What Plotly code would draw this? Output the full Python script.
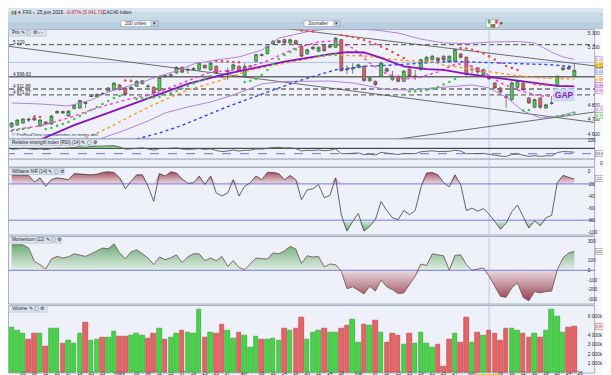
import plotly.graph_objects as go

W, H = 611, 375

# ---------------- data ----------------
opens = [4649,4662,4676,4704,4711,4656,4683,4669,4746,4756,
         4725,4777,4780,4818,4860,4856,4881,4898,4908,4940,
         4919,4915,4931,4949,4933,4924,4900,5005,5000,5023,
         5062,5041,5046,5046,5076,5044,5069,5002,5032,5051,
         5069,5000,5066,5104,5151,5157,5224,5234,5254,5231,
         5247,5208,5155,5203,5173,5215,5201,5201,5254,5050,
         5050,5062,5069,4969,4965,5000,5053,4976,5000,4965,
         5050,4997,5046,5104,5115,5127,5139,5099,5104,5155,
         5132,5044,5058,5011,5000,4954,4919,4860,4838,4924,
         4954,4850,4785,4850,4780,4811,4931,5046,5062,5000]
highs = [4683,4704,4711,4714,4718,4704,4690,4732,4766,4763,
         4766,4808,4838,4829,4870,4881,4891,4926,4960,4947,
         4926,4940,4974,4976,4947,4931,5000,5011,5023,5069,
         5069,5071,5064,5099,5083,5104,5078,5016,5058,5087,
         5076,5092,5078,5157,5158,5215,5251,5254,5262,5262,
         5254,5219,5191,5210,5208,5222,5224,5272,5260,5078,
         5092,5089,5078,4995,4971,5099,5061,5037,5009,5044,
         5058,5044,5123,5141,5148,5134,5146,5146,5193,5161,
         5139,5078,5064,5054,5009,4960,4926,4877,4967,4976,
         4960,4856,4846,4856,4811,4863,5009,5071,5078,5089]
lows = [4642,4656,4669,4683,4690,4649,4662,4662,4739,4739,
        4718,4770,4773,4780,4856,4850,4870,4891,4902,4898,
        4863,4905,4926,4940,4919,4877,4896,4988,4993,5016,
        5023,5016,5037,5039,5051,5037,5016,4988,4974,5044,
        5030,4993,5060,5099,5137,5150,5217,5227,5224,5224,
        5217,5134,5148,5182,5168,5170,5194,5196,5032,5016,
        5016,5054,4964,4960,4933,4995,5026,4969,4957,4960,
        4993,4974,5039,5096,5108,5099,5106,5092,5099,5123,
        5005,5016,5009,5005,4974,4912,4877,4780,4829,4915,
        4898,4808,4778,4773,4773,4801,4926,5037,5044,4995]
closes = [4676,4697,4704,4697,4697,4697,4669,4725,4756,4746,
          4759,4801,4832,4811,4863,4874,4877,4919,4953,4908,
          4874,4922,4965,4969,4929,4884,4993,5000,5011,5062,
          5028,5047,5053,5092,5058,5092,5023,4997,5037,5080,
          5035,5069,5071,5150,5146,5208,5242,5247,5231,5254,
          5224,5139,5184,5191,5201,5177,5215,5265,5039,5046,
          5058,5080,4969,4988,4942,5092,5035,5000,4965,5035,
          5000,5002,5115,5132,5139,5108,5115,5139,5184,5132,
          5011,5048,5030,5046,4983,4919,4891,4853,4954,4969,
          4907,4815,4838,4785,4803,4815,5000,5058,5050,5041.71]

volume_k = [4830,4510,4220,3510,4220,4120,2810,4650,4755,3160,
            3445,3160,4220,5290,3445,3585,3765,3765,4400,3870,
            3870,3980,4120,3980,3690,4120,4680,3585,3765,4120,
            4470,4300,4220,6745,3765,4330,4220,5180,4540,3690,
            4330,3980,2700,3800,3510,3510,3660,3400,4755,4440,
            4650,5820,3585,4330,4510,4755,4330,4330,4755,5040,
            5710,3265,5180,5040,5570,4330,3265,4220,4010,3050,
            4120,3160,4330,3160,2630,3050,610,3585,4120,3265,
            5820,3265,4330,4010,4440,4120,3400,4650,4650,4540,
            4220,3765,4120,3765,4440,6700,6000,4330,4830,4875]
volume_up = [1,1,1,0,0,1,0,1,1,0, 1,1,1,0,1,1,0,1,1,0,
             0,1,1,1,0,0,1,0,1,1, 0,1,1,1,0,1,0,0,1,1,
             0,1,1,1,0,1,1,1,0,1, 0,0,1,1,1,0,1,1,0,0,
             1,1,0,1,0,1,0,0,0,1, 0,1,1,1,1,0,0,0,1,0,
             0,1,0,1,0,0,0,0,1,1, 0,0,1,0,1,1,1,1,0,0]

sar = [4621,4628,4635,4642,4721,4718,4635,4642,4656,4669,
       4683,4704,4725,4746,4766,4787,4808,4829,4850,4863,
       4971,4969,4843,4846,4850,4853,4856,4870,4884,4898,
       4915,4933,4950,4967,4985,5002,5106,5104,5102,5099,
       5097,4960,4967,4981,5009,5044,5085,5120,5148,5168,
       5186,5317,5314,5310,5141,5144,5148,5151,5286,5279,
       5272,5262,5251,5238,5224,5206,5189,5168,5148,5127,
       4895,4896,4898,4905,4915,4926,4943,4960,4981,5196,
       5193,5184,5172,5158,5139,5116,5092,5071,5058,5044,
       4763,4766,4947,4943,4940,4718,4723,4728,4735,4747.3]

rsi = [66,68,70,69,66,68,65,69,71,70,
       71,73,76,74,77,78,77,79,80,75,
       67,68,71,72,68,63,69,69,70,72,
       67,66,67,69,66,68,62,58,60,64,
       60,63,63,68,67,71,73,74,71,72,
       69,60,63,62,64,61,63,68,50,50,
       51,53,46,48,45,55,52,49,47,51,
       50,50,57,60,61,58,59,59,63,60,
       50,50,49,51,48,44,41,40,47,49,
       45,40,43,40,42,42,54,58,57,55.617]

williams = [-5,-5,-5,-6,-17,-10,-24,-13,-10,-11,
            -13,-3,-4,-5,-5,-4,-1,0,-1,-10,
            -28,-16,-5,-5,-24,-49,-3,-7,0,-2,
            -12,-19,-18,-7,-21,-7,-35,-40,-35,-13,
            -40,-24,-18,-7,-13,-1,-1,-3,-13,-6,
            -13,-46,-30,-28,-21,-43,-39,-10,-71,-98,
            -82,-69,-98,-90,-79,-49,-64,-76,-79,-64,
            -71,-64,-26,-2,-1,-5,-18,-25,-5,-21,
            -64,-60,-65,-61,-70,-82,-95,-85,-66,-55,
            -74,-93,-81,-89,-76,-72,-18,-6,-9,-12.127]

momentum = [264,264,264,230,93,58,13,117,144,127,
            140,171,160,144,170,200,230,222,274,180,
            120,190,212,170,127,58,137,110,130,160,
            80,140,171,171,100,127,100,144,41,100,
            30,6,70,127,120,117,180,171,200,247,
            220,70,150,137,144,34,65,58,-10,-190,
            -170,-210,-245,-165,-215,-100,-170,-200,-240,-234,
            -150,-60,65,50,170,160,150,0,155,160,
            60,0,15,25,-60,-165,-270,-280,-180,-130,
            -280,-316,-220,-234,-220,-215,6,127,180,196]

# moving averages / bands, read at selected bars
ma_main_idx = [5,11,17,26,31,37,43,48,52,56,59,62,65,69,73,76,80,85,92,96,99]
ma_main = [4560,4662,4746,4877,4947,5009,5057,5102,5127,5154,5168,5165,5127,5068,5050,5044,5016,4988,4954,4933,4930.2]
bb_up_idx = [0,5,10,14,17,20,23,26,29,32,36,40,44,47,50,53,56,60,64,68,72,76,80,85,89,92,95,97,99]
bb_up = [4815,4808,4794,4836,4891,4926,4960,5002,5037,5085,5113,5134,5182,5265,5293,5317,5328,5328,5321,5300,5258,5231,5227,5238,5241,5231,5168,5134,5116.9]
bb_lo_idx = [15,16,20,24,27,31,35,39,44,48,52,56,60,63,66,70,74,77,81,84,87,90,93,96,99]
bb_lo = [4558,4572,4628,4690,4746,4787,4822,4870,4947,4964,4967,4967,4954,4933,4908,4905,4919,4929,4940,4919,4856,4759,4711,4721,4753.4]
ma_short_idx = [0,5,10,15,20,25,30,35,40,45,50,54,57,60,63,66,69,72,75,78,80,83,86,89,93,96,99]
ma_short = [4628,4656,4711,4780,4836,4877,4953,5030,5044,5106,5196,5238,5245,5196,5092,5016,4981,4995,5030,5085,5085,5030,4954,4905,4863,4863,4912.8]
ma_mid_idx = [13,17,21,26,31,37,42,48,51,56,62,68,74,76,82,88,93,99]
ma_mid = [4573,4642,4725,4822,4905,4974,5044,5092,5113,5148,5141,5113,5099,5078,5044,5009,4988,4981.2]
ma_long_idx = [22,26,30,34,38,42,46,50,54,57,62,68,77,88,95,99]
ma_long = [4565,4607,4660,4725,4790,4847,4905,4962,5010,5045,5069,5080,5104,5092,5080,5064.5]

# drawn trend lines (bar index, price)
trend_down = ([-1, 103], [5210, 4678])
trend_top = ([48, 103], [5332, 5070])
trend_up = ([68, 103], [4565, 4755])

# horizontal levels
levels = [5220, 4996.63, 4911.89, 4871.07]
level_text = ['5 220', '4 996.63', '4 911.89', '4 871.07']
level_dashed = [True, False, True, True]

# x axis labels (bar index -> text)
tick_idx = [2,4,6,8,10,12,14,16,19,22,24,26,28,30,32,34,36,38,41,44,46,48,50,52,54,56,58,
            61,64,66,68,70,72,74,76,78,81,86,88,90,92,94,96,98,100]
tick_txt = ['05','09','11','13','17','19','23','25','mars','05','09','11','13','17','19','23','25','27',
            'avr.','08','10','14','16','20','22','24','28','mai','07','11','13','15','19','21','25','27',
            'juin','08','10','12','16','18','22','24','26']
cursor_idx = 84
cursor_text = '4 juin 2015'
cursor_price = 5096

# ---------------- geometry (pixels) ----------------
X0PX, DXPX = 3.63, 5.684
PL, PR = 1.0, 586.7
def xp(v): return v / W
def yp(v): return 1 - v / H

PAN = {
    'y':  (21.5, 130.5, 5300, 25.0, 4600, 126.0),
    'y2': (131.0, 159.0, 100, 132.3, 50, 145.7),
    'y3': (159.5, 227.0, 0, 163.8, -100, 224.3),
    'y4': (228.5, 296.0, 0, 262.3, -300, 291.3),
    'y5': (297.5, 365.0, 0, 364.7, 6000, 308.3),
}
def arange(p):
    top, bot, v1, p1, v2, p2 = p
    s = (v2 - v1) / (p2 - p1)
    return [v1 + (bot - p1) * s, v1 + (top - p1) * s]

FONT = 'Liberation Sans, Arial, sans-serif'
N = len(closes)
X = list(range(N))

fig = go.Figure()

def line(xs, ys, color, width=1, dash=None, yaxis='y'):
    fig.add_trace(go.Scatter(x=xs, y=ys, mode='lines', yaxis=yaxis,
                             line=dict(color=color, width=width, dash=dash),
                             hoverinfo='skip', showlegend=False))

# ---- price panel ----
line(*trend_down, '#4a4a4a', 0.8)
line(*trend_top, '#4a4a4a', 0.8)
line(*trend_up, '#4a4a4a', 0.8)
line(bb_up_idx, bb_up, '#b77ee0', 1)
line(bb_lo_idx, bb_lo, '#b77ee0', 1)
line(ma_long_idx, ma_long, '#3348f0', 1.4, 'dot')
line(ma_mid_idx, ma_mid, '#ff9a1a', 1.4, 'dot')
line(ma_short_idx, ma_short, '#ff33dd', 1.4, 'dot')
line(ma_main_idx, ma_main, '#8a10c0', 1.8)

fig.add_trace(go.Candlestick(
    x=X, open=opens, high=highs, low=lows, close=closes,
    increasing=dict(fillcolor='#41d641', line=dict(color='#505050', width=0.7)),
    decreasing=dict(fillcolor='#e36060', line=dict(color='#505050', width=0.7)),
    whiskerwidth=0, hoverinfo='skip', showlegend=False))

sar_col = ['#f04848' if s > c else '#3cc83c' for s, c in zip(sar, closes)]
fig.add_trace(go.Scatter(x=X, y=sar, mode='markers', marker=dict(size=2.6, color=sar_col),
                         hoverinfo='skip', showlegend=False))

# ---- RSI ----
line([-1, 103], [70, 70], '#202020', 1, yaxis='y2')
line([-1, 103], [50, 50], '#6e6ef0', 1, 'dash', yaxis='y2')
line([-1, 103], [30, 30], '#9098a8', 1, yaxis='y2')
line(X, [70] * N, 'rgba(0,0,0,0)', 0, yaxis='y2')
fig.add_trace(go.Scatter(x=X, y=[max(v, 70) for v in rsi], yaxis='y2', mode='lines',
                         line=dict(width=0, color='rgba(0,0,0,0)'), fill='tonexty',
                         fillcolor='rgba(90,200,90,0.75)', hoverinfo='skip', showlegend=False))
line(X, rsi, '#5a5a5a', 0.9, yaxis='y2')

# ---- Williams %R ----
line(X, [-20] * N, 'rgba(0,0,0,0)', 0, yaxis='y3')
fig.add_trace(go.Scatter(x=X, y=[max(v, -20) for v in williams], yaxis='y3', mode='lines',
                         line=dict(width=0, color='rgba(0,0,0,0)'), fill='tonexty',
                         fillgradient=dict(type='vertical', start=-20, stop=0,
                                           colorscale=[[0, 'rgba(235,215,220,0.9)'], [1, 'rgba(160,70,85,0.95)']]),
                         hoverinfo='skip', showlegend=False))
line(X, [-80] * N, 'rgba(0,0,0,0)', 0, yaxis='y3')
fig.add_trace(go.Scatter(x=X, y=[min(v, -80) for v in williams], yaxis='y3', mode='lines',
                         line=dict(width=0, color='rgba(0,0,0,0)'), fill='tonexty',
                         fillgradient=dict(type='vertical', start=-100, stop=-80,
                                           colorscale=[[0, 'rgba(80,160,90,0.95)'], [1, 'rgba(215,235,218,0.9)']]),
                         hoverinfo='skip', showlegend=False))
line([-1, 103], [-20, -20], '#7a7ae8', 1, yaxis='y3')
line([-1, 103], [-80, -80], '#7a7ae8', 1, yaxis='y3')
line(X, williams, '#404040', 0.8, yaxis='y3')

# ---- Momentum ----
fig.add_trace(go.Scatter(x=X, y=[max(v, 0) for v in momentum], yaxis='y4', mode='lines',
                         line=dict(width=0, color='rgba(0,0,0,0)'), fill='tozeroy',
                         fillgradient=dict(type='vertical', start=0, stop=280,
                                           colorscale=[[0, 'rgba(225,238,228,0.9)'], [1, 'rgba(95,165,105,0.95)']]),
                         hoverinfo='skip', showlegend=False))
fig.add_trace(go.Scatter(x=X, y=[min(v, 0) for v in momentum], yaxis='y4', mode='lines',
                         line=dict(width=0, color='rgba(0,0,0,0)'), fill='tozeroy',
                         fillgradient=dict(type='vertical', start=-320, stop=0,
                                           colorscale=[[0, 'rgba(140,50,65,0.95)'], [1, 'rgba(235,215,220,0.9)']]),
                         hoverinfo='skip', showlegend=False))
line([-1, 103], [0, 0], '#7a7ae8', 1, yaxis='y4')
line(X, momentum, '#7a5a5a', 0.9, yaxis='y4')

# ---- Volume ----
fig.add_trace(go.Bar(x=X, y=volume_k, yaxis='y5', width=0.8,
                     marker=dict(color=['#45d545' if u else '#e86464' for u in volume_up],
                                 line=dict(color=['#2f9a2f' if u else '#b04040' for u in volume_up], width=0.6)),
                     hoverinfo='skip', showlegend=False))

# ---------------- layout ----------------
tick_font = dict(family=FONT, size=4.8, color='#2a2a2a')
def yax(key, tv, tt):
    top, bot = PAN[key][0], PAN[key][1]
    return dict(domain=[yp(bot), yp(top)], range=arange(PAN[key]), side='right', anchor='x',
                showgrid=False, zeroline=False, showline=False, ticks='', tickvals=tv, ticktext=tt,
                tickfont=tick_font, fixedrange=True, ticklabelstandoff=-8)

layout = dict(
    width=W, height=H, margin=dict(l=0, r=0, t=0, b=0),
    paper_bgcolor='#dfe5ed', plot_bgcolor='rgba(0,0,0,0)',
    showlegend=False, hovermode=False, bargap=0, boxgap=0.25,
    xaxis=dict(domain=[xp(PL), xp(PR)], range=[(PL - X0PX) / DXPX, (PR - X0PX) / DXPX],
               anchor='free', position=yp(365), ticklabelstandoff=-4,
               showgrid=False, zeroline=False, showline=False, ticks='',
               tickvals=tick_idx, ticktext=tick_txt, tickfont=tick_font, tickangle=0,
               rangeslider=dict(visible=False), fixedrange=True),
    yaxis=yax('y', [4600, 4700, 4800, 5200, 5300], ['4 600', '4 700', '4 800', '5 200', '5 300']),
    yaxis2=yax('y2', [100], ['100']),
    yaxis3=yax('y3', [0, -20, -40, -60, -80, -100], ['0', '-20', '-40', '-60', '-80', '-100']),
    yaxis4=yax('y4', [300, 100, 0, -100, -200, -300], ['300', '100', '0', '-100', '-200', '-300']),
    yaxis5=yax('y5', [1000, 2000, 3000, 4000, 6000], ['1 000k', '2 000k', '3 000k', '4 000k', '6 000k']),
)
fig.update_layout(**layout)

shapes = []
def rect(x0, y0, x1, y1, fill, line_col=None, lw=0.7, layer='below'):
    shapes.append(dict(type='rect', xref='paper', yref='paper', x0=xp(x0), x1=xp(x1), y0=yp(y1), y1=yp(y0),
                       fillcolor=fill, line=dict(color=line_col or 'rgba(0,0,0,0)', width=lw if line_col else 0),
                       layer=layer))

# window chrome
rect(0, 0, W, 4, '#dbe7f0'); rect(0, 4, W, 8.5, '#cbdbe8'); rect(0, 8.5, W, 14, '#c6d8e6'); rect(0, 14, W, 21, '#b9cfe0')
rect(PR, 21, W, 365, '#f7f8fa')
rect(0, 365, W, H, '#f4f6f9')
for k in PAN:
    top, bot = PAN[k][0], PAN[k][1]
    rect(0.5, top, PR, bot, '#eef1fa', '#98a3b6', 0.8)

# header tabs
tabs = [('Prix', 21.5, 38), ('Relative strength index (RSI) (14)', 131.0, 88),
        ('Williams %R (14)', 160.0, 56), ('Momentum (12)', 228.5, 53), ('Volume', 297.5, 39)]
for _, ty, tw in tabs:
    rect(0.5, ty, tw, ty + 6.6, '#dde5ef', '#a6b2c4', 0.6, layer='above')

# dropdowns
rect(113, 12.7, 150, 18.6, '#ffffff', '#8d9bb0', 0.6, layer='above')
rect(143, 13.4, 149.3, 17.9, '#cfdcea', '#8d9bb0', 0.5, layer='above')
rect(296, 12.7, 332, 18.6, '#ffffff', '#8d9bb0', 0.6, layer='above')
rect(325.5, 13.4, 331.3, 17.9, '#cfdcea', '#8d9bb0', 0.5, layer='above')
rect(478, 11.5, 491, 19.5, '#f4f4f4', '#8d9bb0', 0.6, layer='above')

# level lines and cursor lines
for lv, dsh in zip(levels, level_dashed):
    shapes.append(dict(type='line', xref='paper', yref='y', x0=xp(PL), x1=xp(PR), y0=lv, y1=lv,
                       line=dict(color='#6b6b6b', width=1.3, dash='5px,3px' if dsh else 'solid'), layer='below'))
shapes.append(dict(type='line', xref='paper', yref='y', x0=xp(PL), x1=xp(PR), y0=cursor_price, y1=cursor_price,
                   line=dict(color='#aac3ee', width=1), layer='below'))
shapes.append(dict(type='line', xref='x', yref='paper', x0=cursor_idx, x1=cursor_idx, y0=yp(365), y1=yp(21.5),
                   line=dict(color='#b3c9f0', width=1), layer='below'))
fig.update_layout(shapes=shapes)

ann = []
def text(x, y, s, size=4.8, color='#1e1e1e', anchor='left', **kw):
    ann.append(dict(x=xp(x), y=yp(y), xref='paper', yref='paper', text=s, showarrow=False,
                    xanchor=anchor, yanchor='middle', font=dict(family=FONT, size=size, color=color), **kw))

# title bar
text(1, 4.6, '<span style="color:#3cb83c">▮</span><span style="color:#d04040">▮</span> ▾ FX0 ▫', 4.8)
text(27, 4.6, '25 juin 2015', 4.8)
text(56, 4.6, '-0.87% (5 041.71)', 4.8, '#d02020')
text(93, 4.6, 'CAC40 Index', 4.8)
text(604, 4.4, '_ ▫ ×', 4.6, '#6a7a8a', anchor='right')
text(114.5, 15.7, '200 unités', 4.6)
text(297.5, 15.7, 'Journalier', 4.6)
text(146.2, 15.6, '▾', 4.6, anchor='center')
text(328.4, 15.6, '▾', 4.6, anchor='center')
text(484.5, 15.5, '<span style="color:#40b040">▚</span><span style="color:#e04040">▞</span>', 5.5, anchor='center')
text(494, 15.6, '▾', 4.6, anchor='center')

# panel headers
icons = ' ✎ ▢ ⚙'
text(2, 25, 'Prix' + icons + ' ▫ ▫', 4.6)
text(2, 134.3, 'Relative strength index (RSI) (14)' + icons, 4.6)
text(2, 163.3, 'Williams %R (14)' + icons, 4.6)
text(2, 231.8, 'Momentum (12)' + icons, 4.6)
text(2, 300.8, 'Volume' + icons, 4.6)
text(2, 126.7, '© ProRealTime.com Données en temps réel', 4.4, '#2a3a6a')

# level labels
for lv, tx in zip(levels, level_text):
    ypx = PAN['y'][3] + (lv - PAN['y'][2]) / ((PAN['y'][4] - PAN['y'][2]) / (PAN['y'][5] - PAN['y'][3]))
    text(2.5, ypx - 2.4, tx, 4.6)

# right side value tags
tags = [('5 116.9', 51.6, '#9b59d0', '#f5eefc', '#b07ee0'),
        ('5 096', 55.6, '#6a5000', '#fff5c0', '#d8b400'),
        ('5 041.71', 59.8, '#000000', '#ffd84a', '#c89a00'),
        ('5 064.5', 64.0, '#3a4fe0', '#eef0ff', '#6f7ff0'),
        ('4 981.2', 71.2, '#e07800', '#fff2e0', '#f0a040'),
        ('4 930.2', 77.0, '#8a20b0', '#f5e9fa', '#a050c8'),
        ('4 912.8', 82.0, '#c040c0', '#fbe9fb', '#d070d0'),
        ('4 753.4', 101.6, '#9b59d0', '#f5eefc', '#b07ee0'),
        ('4 747.3', 107.0, '#2a9a2a', '#ebf8eb', '#50b050'),
        ('55.617', 145.0, '#333333', '#f2f2f2', '#8a8a8a'),
        ('-12.127', 170.8, '#333333', '#f2f2f2', '#8a8a8a'),
        ('121.49', 243.3, '#333333', '#f2f2f2', '#8a8a8a'),
        ('4 875k', 318.3, '#d03030', '#fbeaea', '#d06060')]
for s, ypx, c, bg, bd in tags:
    text(587.2, ypx, s, 3.9, c, bgcolor=bg, bordercolor=bd, borderwidth=0.5, borderpad=0.3)
text(590, 155.7, '0', 4.8, '#2a2a2a')

# GAP marker and cursor date
text(556, 86.8, '<b>GAP</b>', 8.5, '#8e24aa', anchor='center', bgcolor='#c9d8f4', borderpad=0.8)
ann.append(dict(x=cursor_idx, y=yp(369.0), xref='x', yref='paper', text=cursor_text, showarrow=False,
                xanchor='center', yanchor='middle', font=dict(family=FONT, size=4.5, color='#1e1e1e'),
                bgcolor='#fff03c', bordercolor='#c8b000', borderwidth=0.5, borderpad=0.3))
fig.update_layout(annotations=ann)

fig.write_html('out.html')
